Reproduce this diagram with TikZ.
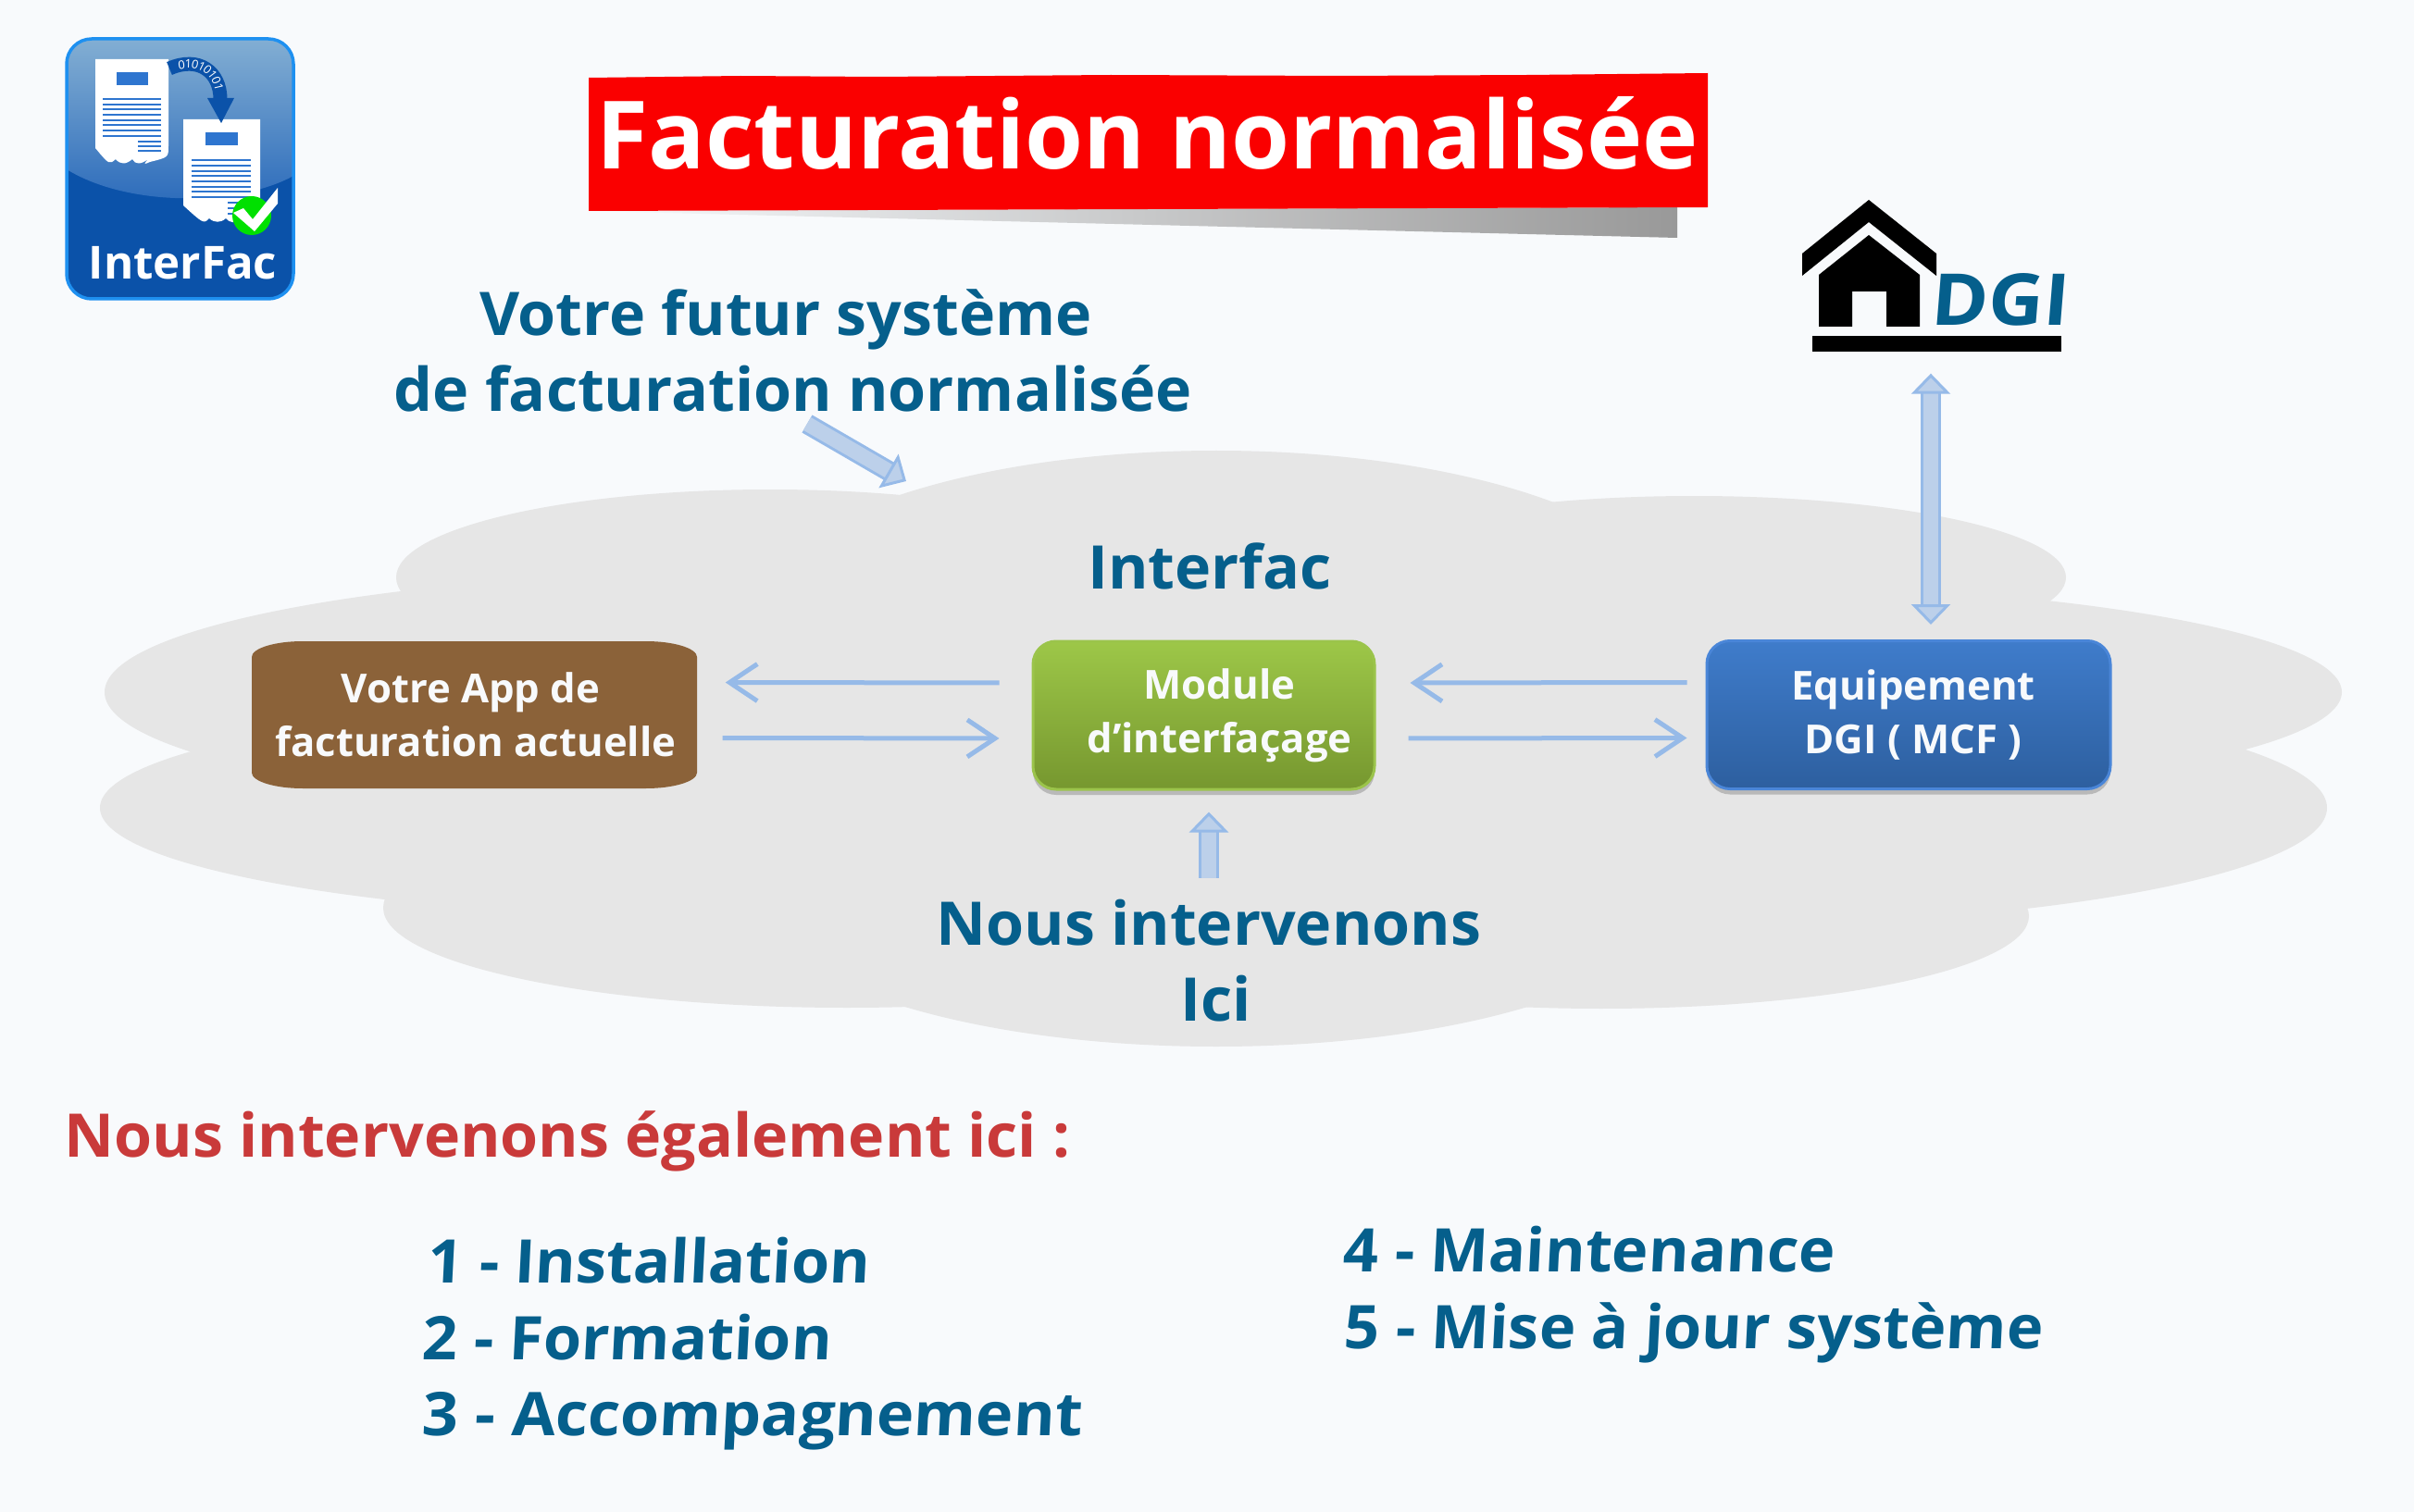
\documentclass[tikz,border=0pt]{standalone}
\usepackage{fontspec}
\usepackage{xcolor}
\usetikzlibrary{calc}
\usetikzlibrary{arrows.meta}
\usetikzlibrary{shadows}
\usetikzlibrary{decorations.text}

\newfontfamily\titlefont{Open Sans}
\newfontfamily\headfont[FakeStretch=1.02]{Open Sans}
\newfontfamily\listfont[FakeStretch=1.025,FakeSlant=0.05]{Open Sans}
\newfontfamily\listwidefont[FakeStretch=1.05,FakeSlant=0.05]{Open Sans}
\newfontfamily\dgifont[FakeStretch=1.07,FakeSlant=0.08]{Open Sans}
\newfontfamily\boxfont[FakeStretch=1.01]{Open Sans}

\definecolor{pagebg}{HTML}{F8FAFC}
\definecolor{cloudgrey}{HTML}{E6E6E6}
\definecolor{inkblue}{HTML}{055F8C}
\definecolor{inkred}{HTML}{C93A3A}
\definecolor{arrowedge}{HTML}{96BAE8}
\definecolor{arrowfill}{HTML}{BCD0EA}
\definecolor{logoblue}{HTML}{0B52A9}
\definecolor{logoedge}{HTML}{1E90F0}
\definecolor{logoink}{HTML}{2E75CF}
\definecolor{appbrown}{HTML}{8B6239}
\definecolor{modedge}{HTML}{9BC44B}
\definecolor{modtop}{HTML}{9DC748}
\definecolor{modbot}{HTML}{76972F}
\definecolor{dgiedge}{HTML}{4A86D8}
\definecolor{dgitop}{HTML}{3F7CCB}
\definecolor{dgibot}{HTML}{2D5F9F}

\tikzset{
    headtext/.style={font=\headfont\bfseries\fontsize{18.5}{23.3}\selectfont, text=inkblue, anchor=base, inner sep=0pt},
    listtext/.style={font=\listfont\bfseries\fontsize{18.5}{23.3}\selectfont, text=inkblue, anchor=base west, inner sep=0pt},
    boxtext/.style={font=\boxfont\bfseries\fontsize{12.3}{16.5}\selectfont, text=pagebg, align=center, inner sep=0pt},
    flowarrow/.style={draw=arrowedge, line width=0.05cm, -{Straight Barb[length=0.3cm,width=0.4cm]}},
    blockhead/.tip={Triangle[length=0.22cm,width=0.42cm,fill=arrowfill,line width=0.03cm]},
    blockarrow/.style={draw=arrowedge, line width=0.03cm, double=arrowfill, double distance=0.16cm},
    glossbox/.style={boxtext, rounded corners=0.25cm, minimum height=1.60cm, line width=0.03cm, drop shadow={shadow xshift=0cm,shadow yshift=-0.06cm,opacity=0.35,fill=black!60}},
    logoline/.style={draw=logoink, line width=0.022cm}
}

\begin{document}
\begin{tikzpicture}[y=-1cm]
    \useasboundingbox (0, 0) rectangle (26.08, 16.34);
    \fill[pagebg] (0, 0) rectangle (26.08, 16.34);

    % cloud
    \fill[cloudgrey] (13.14, 6.65) ellipse [x radius=5.01, y radius=1.78];
    \fill[cloudgrey] (8.32, 6.24) ellipse [x radius=4.04, y radius=0.95];
    \fill[cloudgrey] (18.30, 6.24) ellipse [x radius=4.02, y radius=0.88];
    \fill[cloudgrey] (8.32, 7.48) ellipse [x radius=7.19, y radius=1.31];
    \fill[cloudgrey] (18.30, 7.48) ellipse [x radius=7.00, y radius=1.18];
    \fill[cloudgrey] (8.32, 8.73) ellipse [x radius=7.24, y radius=1.21];
    \fill[cloudgrey] (18.30, 8.73) ellipse [x radius=6.84, y radius=1.28];
    \fill[cloudgrey] (9.15, 9.81) ellipse [x radius=5.01, y radius=1.08];
    \fill[cloudgrey] (17.30, 9.90) ellipse [x radius=4.62, y radius=1.00];
    \fill[cloudgrey] (13.14, 9.65) ellipse [x radius=5.01, y radius=1.66];

    % logo
    \begin{scope}
        \clip[rounded corners=0.27cm] (0.72, 0.42) rectangle (3.17, 3.23);
        \fill[logoblue] (0.72, 0.42) rectangle (3.17, 3.23);
        \shade[top color=logoedge!45!white!85!black, bottom color=logoink!90!black] (0.72, 0.42) -- (3.17, 0.42) -- (3.17, 1.90) .. controls (2.60, 2.22) and (1.40, 2.25) .. (0.72, 1.83) -- cycle;
    \end{scope}
    \draw[logoedge, line width=0.035cm, rounded corners=0.27cm] (0.72, 0.42) rectangle (3.17, 3.23);
    \fill[white] (1.03, 0.64) -- (1.82, 0.64) -- (1.82, 1.58) .. controls (1.82, 1.70) .. (1.62, 1.75) .. controls (1.55, 1.78) .. (1.60, 1.72) .. controls (1.52, 1.78) and (1.46, 1.78) .. (1.43, 1.72) .. controls (1.36, 1.78) and (1.30, 1.78) .. (1.25, 1.72) .. controls (1.18, 1.78) .. (1.03, 1.60) -- cycle;
    \fill[logoink] (1.26, 0.78) rectangle (1.60, 0.92);
    \draw[logoline] (1.11, 1.07) -- (1.74, 1.07) (1.11, 1.13) -- (1.74, 1.13) (1.11, 1.18) -- (1.74, 1.18) (1.11, 1.24) -- (1.74, 1.24) (1.11, 1.30) -- (1.74, 1.30) (1.11, 1.35) -- (1.74, 1.35) (1.11, 1.41) -- (1.74, 1.41) (1.11, 1.47) -- (1.74, 1.47);
    \draw[logoline] (1.49, 1.53) -- (1.74, 1.53) (1.49, 1.58) -- (1.74, 1.58) (1.49, 1.63) -- (1.74, 1.63);
    \fill[white] (1.98, 1.29) -- (2.81, 1.29) -- (2.81, 2.20) -- (2.60, 2.39) .. controls (2.54, 2.41) and (2.48, 2.41) .. (2.44, 2.36) .. controls (2.38, 2.41) and (2.32, 2.41) .. (2.26, 2.36) .. controls (2.20, 2.42) .. (1.98, 2.22) -- cycle;
    \fill[logoink] (2.22, 1.43) rectangle (2.57, 1.57);
    \draw[logoline] (2.07, 1.73) -- (2.71, 1.73) (2.07, 1.79) -- (2.71, 1.79) (2.07, 1.85) -- (2.71, 1.85) (2.07, 1.90) -- (2.71, 1.90) (2.07, 1.96) -- (2.71, 1.96) (2.07, 2.02) -- (2.71, 2.02) (2.07, 2.07) -- (2.71, 2.07) (2.07, 2.13) -- (2.71, 2.13);
    \draw[logoline] (2.46, 2.19) -- (2.65, 2.19) (2.46, 2.25) -- (2.65, 2.25) (2.46, 2.31) -- (2.65, 2.31);
    \draw[logoblue, line width=0.15cm] (1.83, 0.74) .. controls (2.15, 0.60) and (2.38, 0.78) .. (2.38, 1.07);
    \fill[logoblue] (2.24, 1.06) -- (2.53, 1.06) -- (2.39, 1.33) -- cycle;
    \path[decorate, decoration={text along path, text align=center, raise=-0.045cm, text={|\listfont\fontsize{3.6}{4}\selectfont\color{white}|01010101}}] (1.83, 0.74) .. controls (2.15, 0.60) and (2.38, 0.78) .. (2.38, 1.07);
    \fill[green!88!black] (2.72, 2.33) circle (0.21);
    \fill[white] (2.52, 2.30) -- (2.63, 2.25) -- (2.73, 2.37) -- (3.00, 2.03) -- (3.00, 2.20) -- (2.75, 2.50) -- cycle;
    \node[font=\titlefont\bfseries\fontsize{14}{16}\selectfont, text=white, anchor=base, inner sep=0pt] (logoname) at (1.975, 3.02) {InterFac};

    % title
    \shade[left color=pagebg, right color=black!40] (6.36, 2.28) -- (18.12, 2.24) -- (18.12, 2.57) -- cycle;
    \fill[red!98!black] (6.36, 0.84) -- (8.00, 0.82) -- (9.50, 0.83) -- (12.00, 0.81) -- (14.50, 0.82) -- (16.50, 0.81) -- (18.45, 0.79) -- (18.45, 2.24) -- (6.36, 2.28) -- cycle;
    \node[font=\titlefont\bfseries\fontsize{29}{35}\selectfont, text=white, anchor=base, inner sep=0pt] (title) at (12.40, 1.83) {Facturation normalisée};

    % house
    \fill[black] (20.19, 2.16) -- (20.92, 2.74) -- (20.92, 2.98) -- (20.19, 2.40) -- (19.47, 2.98) -- (19.47, 2.74) -- cycle;
    \fill[black] (20.19, 2.54) -- (20.74, 2.97) -- (20.74, 3.53) -- (20.38, 3.53) -- (20.38, 3.15) -- (20.01, 3.15) -- (20.01, 3.53) -- (19.65, 3.53) -- (19.65, 2.97) -- cycle;
    \node[font=\dgifont\bfseries\fontsize{22}{26}\selectfont, text=inkblue, anchor=base west, inner sep=0pt] (dgi) at (20.85, 3.52) {DGI};
    \node[fill=black, minimum width=2.69cm, minimum height=0.17cm, inner sep=0pt] (dgibar) at (20.925, 3.715) {};

    % headings
    \node[headtext] (futur) at (8.49, 3.63) {Votre futur système};
    \node[headtext] (futurbis) at (8.57, 4.45) {de facturation normalisée};
    \node[headtext] (interfac) at (13.07, 6.37) {Interfac};
    \node[headtext] (nous) at (13.06, 10.21) {Nous intervenons};
    \node[headtext] (ici) at (13.14, 11.03) {Ici};

    % boxes
    \fill[appbrown] (2.72, 7.10) .. controls (2.72, 7.006) and (2.97, 6.93) .. (3.27, 6.93) -- (6.98, 6.93) .. controls (7.28, 6.93) and (7.53, 7.006) .. (7.53, 7.10) -- (7.53, 8.35) .. controls (7.53, 8.444) and (7.28, 8.52) .. (6.98, 8.52) -- (3.27, 8.52) .. controls (2.97, 8.52) and (2.72, 8.444) .. (2.72, 8.35) -- cycle;
    \node[boxtext, minimum width=4.81cm, minimum height=1.59cm] (app) at (5.125, 7.725) {Votre App de\hspace*{0.08cm}\\\hspace*{0.03cm}facturation actuelle};
    \node[glossbox, draw=modedge, top color=modtop, bottom color=modbot, minimum width=3.69cm] (module) at (13.005, 7.73) {\hspace*{0.34cm}Module\\\hspace*{0.34cm}d’interfaçage};
    \node[glossbox, draw=dgiedge, top color=dgitop, bottom color=dgibot, minimum width=4.36cm] (equip) at (20.62, 7.725) {\hspace*{0.1cm}Equipement\\\hspace*{0.1cm}DGI ( MCF )};

    % arrows
    \draw[flowarrow, shorten <=0.35cm, shorten >=0.30cm] ([yshift=0.35cm]module.west) -- ([yshift=0.35cm]app.east);
    \draw[flowarrow, shorten <=0.27cm, shorten >=0.35cm] ([yshift=-0.25cm]app.east) -- ([yshift=-0.25cm]module.west);
    \draw[flowarrow, shorten <=0.20cm, shorten >=0.37cm] ([yshift=0.35cm]equip.west) -- ([yshift=0.35cm]module.east);
    \draw[flowarrow, shorten <=0.35cm, shorten >=0.20cm] ([yshift=-0.25cm]module.east) -- ([yshift=-0.25cm]equip.west);

    \draw[blockarrow, blockhead-blockhead, shorten <=0.23cm, shorten >=0.16cm] ([xshift=-0.065cm]dgibar.south) -- ([xshift=-0.065cm]dgibar.south |- equip.north);
    \draw[blockarrow, -blockhead, shorten <=0.22cm, shorten >=0.23cm] (nous.north) -- (nous.north |- module.south);
    \coordinate (futurfoot) at (8.72, 4.58);
    \coordinate (cloudtop) at (9.79, 5.20);
    \draw[blockarrow, -blockhead] (futurfoot) -- (cloudtop);

    % what we also do
    \node[listtext, text=inkred, font=\headfont\bfseries\fontsize{18.5}{23.3}\selectfont] (autres) at (0.69, 12.50) {Nous intervenons également ici :};
    \node[listtext] (item1) at (4.61, 13.86) {1 - Installation};
    \node[listtext] (item2) at (4.55, 14.69) {2 - Formation};
    \node[listtext, font=\listwidefont\bfseries\fontsize{18.5}{23.3}\selectfont] (item3) at (4.55, 15.51) {3 - Accompagnement};
    \node[listtext] (item4) at (14.50, 13.74) {4 - Maintenance};
    \node[listtext] (item5) at (14.51, 14.57) {5 - Mise à jour système};
\end{tikzpicture}
\end{document}
